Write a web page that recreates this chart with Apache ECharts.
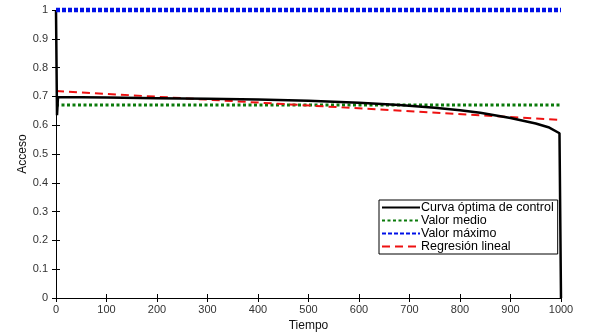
<!DOCTYPE html>
<html>
<head>
<meta charset="utf-8">
<script src="https://cdn.jsdelivr.net/npm/echarts@6/dist/echarts.min.js"></script>
<style>
html, body { margin: 0; padding: 0; background: #fff; }
#chart { width: 590px; height: 335px; }
</style>
</head>
<body>
<div id="chart"></div>
<script>
// datos
var tiempo = [0, 2, 4, 50, 100, 200, 300, 400, 500, 600, 680, 750, 800, 840, 900, 950, 975, 997, 1000];
var curvaOptima = [1, 0.635, 0.698, 0.697, 0.696, 0.694, 0.692, 0.689, 0.685, 0.678, 0.670, 0.661, 0.652, 0.643, 0.625, 0.606, 0.593, 0.572, 0];
var tiempoRango = [0, 1000];
var valorMedio = [0.67, 0.67];
var valorMaximo = [1, 1];
var regresion = [0.719, 0.618];
var xTicks = [0, 100, 200, 300, 400, 500, 600, 700, 800, 900, 1000];

function pares(xs, ys) {
	var out = [];
	for (var i = 0; i < xs.length; i++) out.push([xs[i], ys[i]]);
	return out;
}

var fuente = 'Liberation Sans, Arial, sans-serif';
var chart = echarts.init(document.getElementById('chart'));

var ejeX = {
	type : 'value',
	min : 0,
	max : 1000,
	interval : 100,
	axisLine : { lineStyle : { color : '#000', width : 1 } },
	axisTick : { inside : true, length : 4, lineStyle : { color : '#000' } },
	splitLine : { show : false }
};
var ejeY = {
	type : 'value',
	min : 0,
	max : 1,
	interval : 0.1,
	axisLine : { show : true, lineStyle : { color : '#000', width : 1 } },
	axisTick : { show : true, inside : true, length : 4, lineStyle : { color : '#000' } },
	splitLine : { show : false }
};

var option = {
	animation : false,
	backgroundColor : '#fff',
	textStyle : { fontFamily : fuente },
	grid : { left : 56, right : 29, top : 10, bottom : 37, outerBoundsMode : 'none' },
	xAxis : [
		Object.assign({}, ejeX, {
			position : 'bottom',
			name : 'Tiempo',
			nameLocation : 'middle',
			nameGap : 18,
			nameTextStyle : { fontSize : 12, color : '#111', fontFamily : fuente },
			axisLabel : {
				color : '#333', fontSize : 11, margin : 6, fontFamily : fuente,
				formatter : function (v) { return xTicks.indexOf(v) >= 0 ? String(v) : ''; }
			}
		}),
		Object.assign({}, ejeX, { position : 'top', axisLabel : { show : false } })
	],
	yAxis : [
		Object.assign({}, ejeY, {
			position : 'left',
			name : 'Acceso',
			nameLocation : 'middle',
			nameGap : 27,
			nameMoveOverlap : false,
			nameTextStyle : { fontSize : 12, color : '#111', fontFamily : fuente },
			axisLabel : {
				color : '#333', fontSize : 11, margin : 8, fontFamily : fuente,
				formatter : function (v) { return String(Math.round(v * 10) / 10); }
			}
		}),
		Object.assign({}, ejeY, { position : 'right', axisLabel : { show : false } })
	],
	legend : {
		orient : 'vertical',
		left : 379,
		top : 200,
		padding : [1, 4, 1, 2],
		itemGap : 0,
		itemWidth : 38,
		itemHeight : 9,
		backgroundColor : '#fff',
		borderColor : '#000',
		borderWidth : 1,
		borderRadius : 0,
		itemStyle : { opacity : 0 },
		textStyle : { fontSize : 12.5, lineHeight : 12, color : '#000', fontFamily : fuente, padding : [0, 0, 0, -4] },
		data : ['Curva óptima de control', 'Valor medio', 'Valor máximo', 'Regresión lineal']
	},
	series : [{
		name : 'Valor medio',
		type : 'line',
		symbol : 'none',
		clip : false,
		data : pares(tiempoRango, valorMedio),
		lineStyle : { color : '#0a7a0a', width : 3, type : [3, 2.5] },
		itemStyle : { color : '#0a7a0a' }
	}, {
		name : 'Regresión lineal',
		type : 'line',
		symbol : 'none',
		clip : false,
		data : pares(tiempoRango, regresion),
		lineStyle : { color : '#ee1111', width : 2, type : [8, 5] },
		itemStyle : { color : '#ee1111' }
	}, {
		name : 'Curva óptima de control',
		type : 'line',
		symbol : 'none',
		clip : false,
		data : pares(tiempo, curvaOptima),
		lineStyle : { color : '#000', width : 2.5 },
		itemStyle : { color : '#000' }
	}, {
		name : 'Valor máximo',
		type : 'line',
		symbol : 'none',
		clip : false,
		data : pares(tiempoRango, valorMaximo),
		lineStyle : { color : '#0010e8', width : 4.5, type : [4, 2] },
		itemStyle : { color : '#0010e8' }
	}]
};
chart.setOption(option);
</script>
</body>
</html>
